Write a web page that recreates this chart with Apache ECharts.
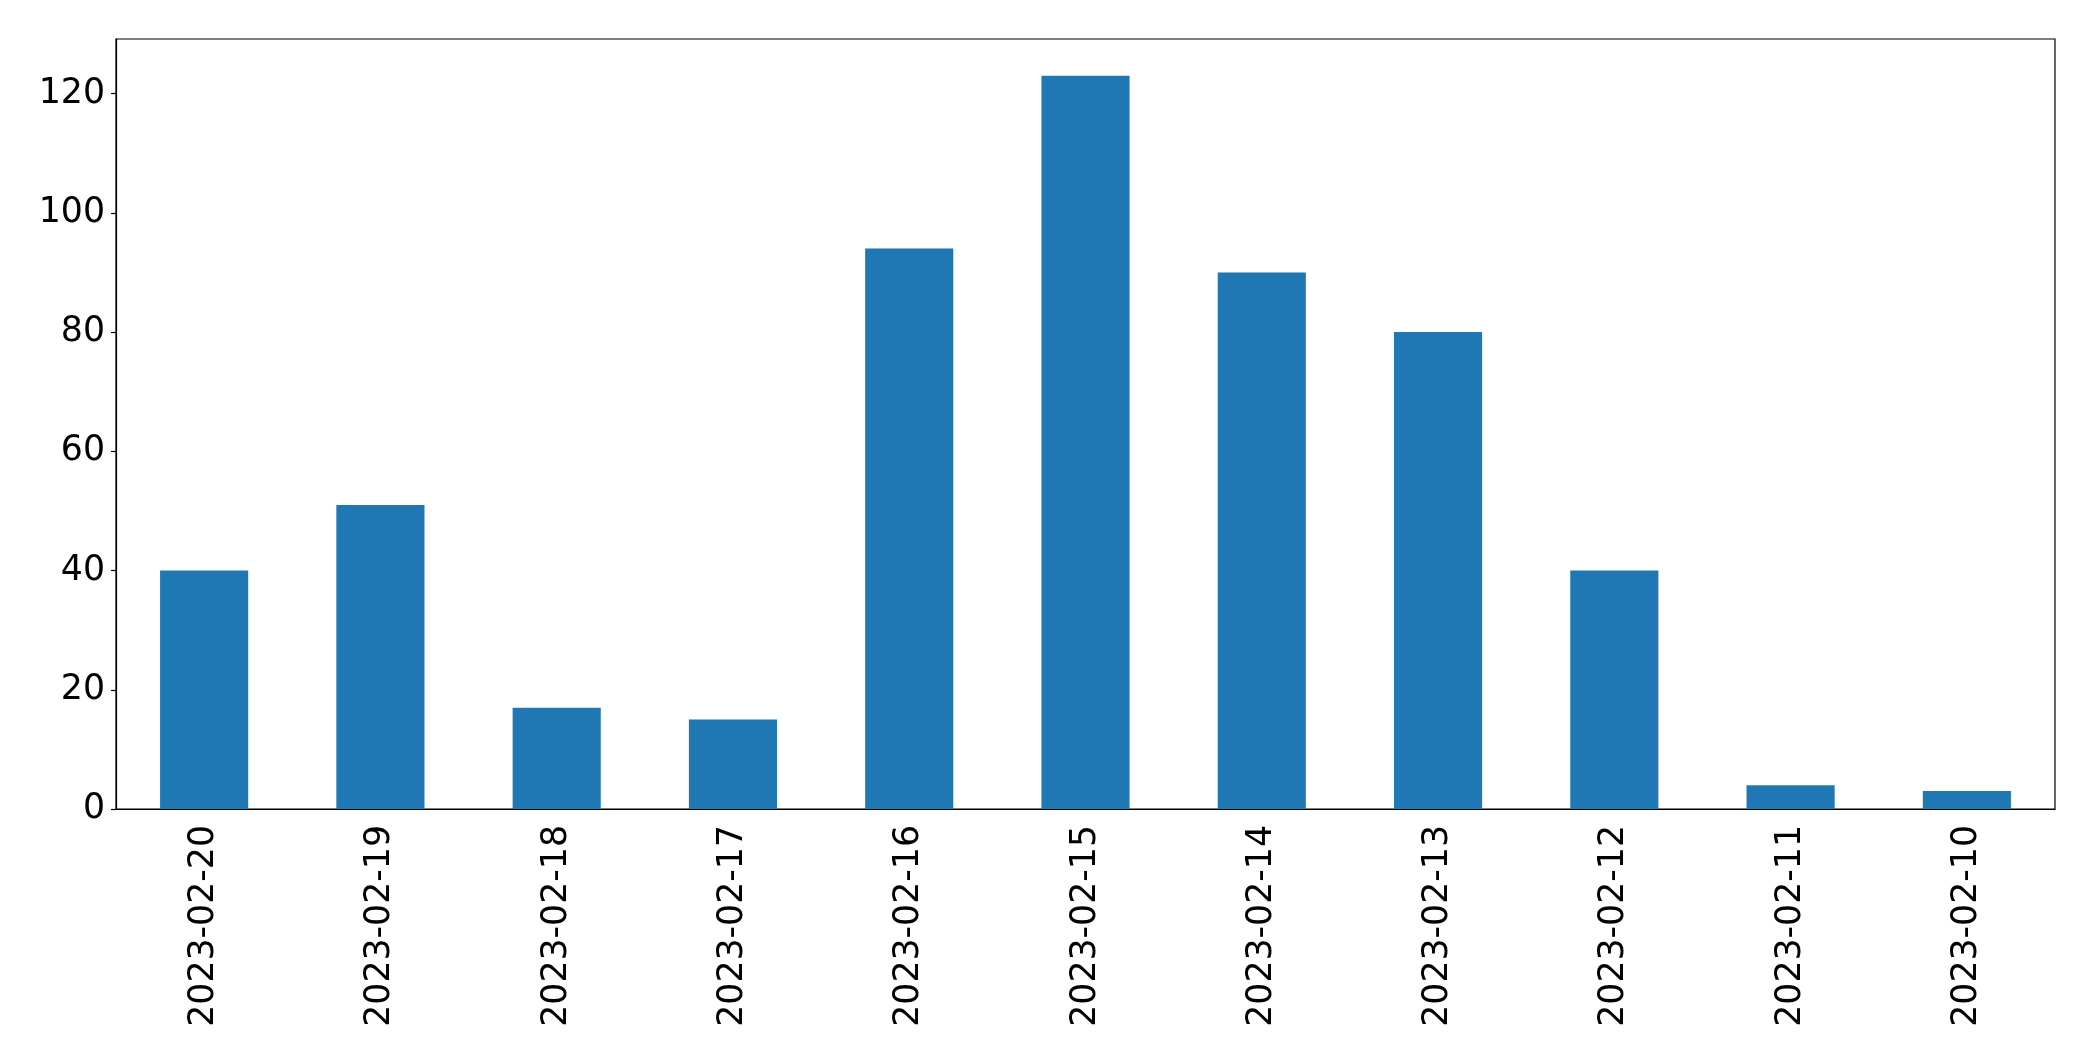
<!DOCTYPE html>
<html><head><meta charset="utf-8">
<script src="https://cdn.jsdelivr.net/npm/echarts@6/dist/echarts.min.js"></script>
<style>html,body{margin:0;padding:0;background:#fff}#c{width:2093px;height:1061px}</style>
</head><body><div id="c"></div>
<script>
const categories = ["2023-02-20","2023-02-19","2023-02-18","2023-02-17","2023-02-16","2023-02-15","2023-02-14","2023-02-13","2023-02-12","2023-02-11","2023-02-10"];
const counts = [40, 51, 17, 15, 94, 123, 90, 80, 40, 4, 3];
const yTicks = [0, 20, 40, 60, 80, 100, 120];
const yMax = 129.15;
const chart = echarts.init(document.getElementById('c'), null, {renderer:'canvas'});
const font = 'DejaVu Sans';
chart.setOption({
  animation:false,
  backgroundColor:'#fff',
  grid:{left:116,right:38,top:39,bottom:252,show:true,borderColor:'#000',borderWidth:1.2,backgroundColor:'transparent'},
  xAxis:{type:'category',data:categories,boundaryGap:true,
    axisLine:{lineStyle:{color:'#000',width:1.2}},
    axisTick:{alignWithLabel:true,length:5,lineStyle:{color:'#000',width:1.2}},
    axisLabel:{rotate:90,color:'#000',fontFamily:font,fontSize:34.72,margin:16,interval:0}},
  yAxis:{type:'value',min:0,max:yMax,interval:20,
    axisLine:{show:true,lineStyle:{color:'#000',width:1.2}},
    axisTick:{show:true,length:5,customValues:yTicks,lineStyle:{color:'#000',width:1.2}},
    splitLine:{show:false},
    axisLabel:{color:'#000',fontFamily:font,fontSize:34.72,margin:11,customValues:yTicks}},
  series:[{type:'bar',data:counts,barWidth:'50%',itemStyle:{color:'#1f77b4'}}]
});
</script></body></html>
